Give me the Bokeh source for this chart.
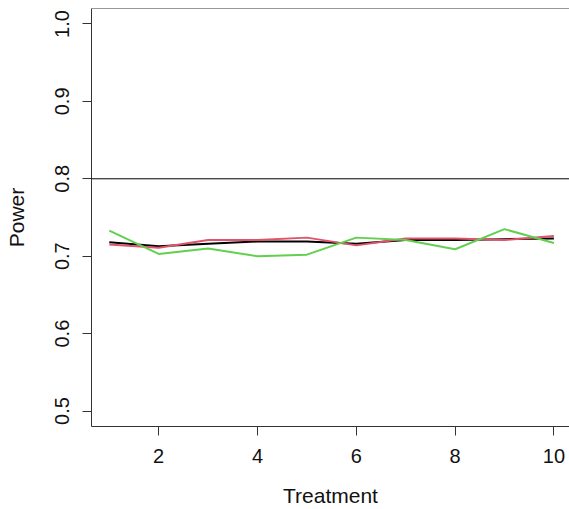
from bokeh.plotting import figure
from bokeh.models import Range1d, FixedTicker, PrintfTickFormatter, Span
from bokeh.embed import file_html
from bokeh.resources import INLINE

# Power per treatment for three methods
treatment = [1, 2, 3, 4, 5, 6, 7, 8, 9, 10]
power_a = [0.718, 0.713, 0.716, 0.719, 0.719, 0.716, 0.721, 0.721, 0.722, 0.723]
power_b = [0.715, 0.711, 0.721, 0.721, 0.724, 0.714, 0.723, 0.723, 0.721, 0.726]
power_c = [0.733, 0.703, 0.710, 0.700, 0.702, 0.724, 0.721, 0.709, 0.735, 0.717]
series_colors = ["#000000", "#DF536B", "#61D04F"]
target_power = 0.8
x_ticks = [2, 4, 6, 8, 10]
y_ticks = [0.5, 0.6, 0.7, 0.8, 0.9, 1.0]

FONT = "Liberation Sans"
TICK_FS = "20px"
TITLE_FS = "21px"

p = figure(width=569, height=509, output_backend="svg", toolbar_location=None,
           x_range=Range1d(0.64, 10.316), y_range=Range1d(0.48, 1.02),
           min_border_left=91, min_border_right=0, min_border_top=8,
           min_border_bottom=81)
p.outline_line_color = None
p.xgrid.visible = False
p.ygrid.visible = False
p.background_fill_color = "white"
p.border_fill_color = "white"

for ys, c in zip([power_a, power_b, power_c], series_colors):
    p.line(treatment, ys, line_color=c, line_width=2)

p.add_layout(Span(location=target_power, dimension="width", line_color="black", line_width=1))
# top edge of the plot box
p.add_layout(Span(location=1.02, dimension="width", line_color="#333333", line_width=1))

for ax in (p.xaxis[0], p.yaxis[0]):
    ax.axis_line_color = "#333333"
    ax.major_tick_line_color = "#333333"
    ax.major_tick_out = 9
    ax.major_tick_in = 0
    ax.minor_tick_out = 0
    ax.minor_tick_in = 0
    ax.major_label_text_font = FONT
    ax.major_label_text_font_size = TICK_FS
    ax.major_label_text_color = "#111111"
    ax.axis_label_text_font = FONT
    ax.axis_label_text_font_size = TITLE_FS
    ax.axis_label_text_font_style = "normal"
    ax.axis_label_text_color = "#111111"

p.xaxis.ticker = FixedTicker(ticks=x_ticks)
p.xaxis.formatter = PrintfTickFormatter(format="%d")
p.xaxis.axis_label = "Treatment"
p.xaxis.major_label_standoff = 13
p.xaxis.axis_label_standoff = 18

p.yaxis.ticker = FixedTicker(ticks=y_ticks)
p.yaxis.formatter = PrintfTickFormatter(format="%.1f")
p.yaxis.axis_label = "Power"
p.yaxis.major_label_orientation = "vertical"
p.yaxis.major_label_standoff = 13
p.yaxis.axis_label_standoff = 25

open("out.html", "w").write(file_html(p, INLINE))
